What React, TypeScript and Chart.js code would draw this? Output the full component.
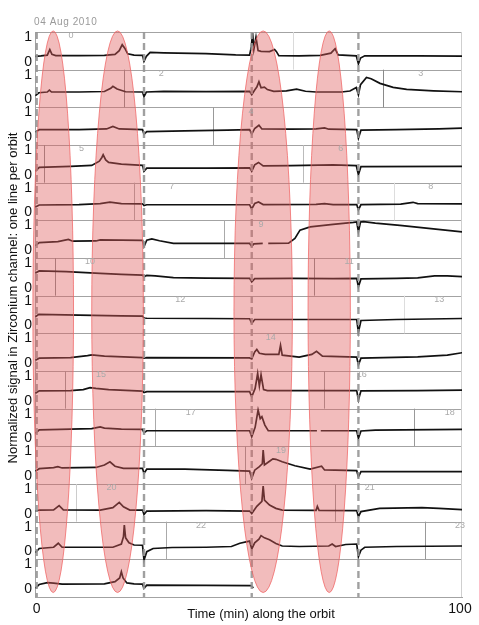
import React, { useEffect, useRef } from 'react';
import { Chart, registerables } from 'chart.js';

Chart.register(...registerables);

type Pt = [number, number | null];

// ---- layout of the stacked rows (value units) ----
const ROWS = 15;
const ROW_SPAN = 1.525;
const ZERO_OFFSET = 0.32;
const rowZero = (r: number) => (ROWS - 1 - r) * ROW_SPAN + ZERO_OFFSET;

// ---- x axis ----
const X_MIN = -0.4;
const X_MAX = 100.47;
const xTickValues = [0, 100];
const dateText = '04 Aug 2010';
const xTitle = 'Time (min) along the orbit';
const yTitle = 'Normalized signal in Zirconium channel: one line per orbit';

// ---- normalized traces, one per row: [minute, value] ----
const row00: Pt[] = [[-0.3,0.22],[1,0.24],[2.5,0.27],[3.1,0.49],[3.6,0.3],[4.5,0.25],[10,0.25],[16,0.26],[18.5,0.3],[19.5,0.45],[20.2,0.69],[20.8,0.55],[21.5,0.32],[23,0.27],[25,0.26],[25.35,0.02],[25.9,0.22],[26.8,0.38],[30,0.36],[40,0.33],[47,0.28],[50.3,0.27],[50.7,0.6],[51.0,1.16],[51.3,0.5],[51.8,1.0],[52.3,0.45],[53,0.42],[55,0.41],[56.2,0.5],[56.6,0.42],[57.2,0.25],[62,0.24],[67,0.26],[69.5,0.35],[70.5,0.53],[71.2,0.28],[75.5,0.24],[76,-0.09],[76.5,0.15],[77.5,0.24],[90,0.24],[100.5,0.23]];
const row01: Pt[] = [[-0.3,0.15],[0.5,0.27],[2.5,0.3],[3,0.38],[3.5,0.3],[10,0.3],[16,0.32],[17.5,0.45],[18,0.53],[19,0.42],[21,0.31],[25,0.3],[25.35,0.12],[25.9,0.3],[30,0.33],[40,0.32],[50.3,0.33],[50.8,0.19],[51.5,0.38],[52,0.5],[52.5,0.72],[53,0.47],[53.8,0.5],[54.5,0.4],[56,0.33],[59,0.35],[61.4,0.42],[63.5,0.33],[66,0.3],[72,0.3],[74,0.34],[75.5,0.48],[76,0.19],[76.5,0.6],[77.9,0.89],[79,0.84],[81.1,0.65],[84.2,0.49],[87.4,0.41],[93.7,0.35],[100.5,0.31]];
const row02: Pt[] = [[-0.3,0.2],[0.6,0.3],[10,0.3],[16.5,0.33],[18,0.43],[19.5,0.33],[25,0.3],[25.35,0.12],[26,0.22],[35,0.25],[45,0.28],[50.3,0.3],[50.8,0.12],[51.5,0.35],[52.5,0.48],[53.2,0.33],[60,0.32],[66,0.33],[68,0.37],[69,0.32],[75.6,0.3],[76,-0.04],[76.6,0.28],[85,0.3],[95,0.33],[100.5,0.36]];
const row03: Pt[] = [[-0.3,0.15],[0.6,0.3],[8,0.34],[13,0.38],[14.8,0.55],[15.4,0.7],[15.7,0.81],[16.3,0.6],[17,0.5],[20,0.43],[25,0.38],[25.35,0.14],[26,0.27],[40,0.27],[50.3,0.28],[50.8,0.14],[51.5,0.4],[52.4,0.5],[53.5,0.36],[60,0.37],[70,0.4],[75.5,0.37],[76,0],[76.6,0.33],[100.5,0.34]];
const row04: Pt[] = [[-0.3,0.22],[0.6,0.3],[10,0.32],[15,0.36],[17.3,0.42],[20,0.36],[25,0.35],[25.35,0.28],[26,0.31],[40,0.31],[50.3,0.31],[50.8,0.14],[51.5,0.36],[52.4,0.42],[53.5,0.32],[66,0.33],[68,0.36],[70,0.32],[75.6,0.32],[76,0.1],[76.6,0.32],[86,0.34],[88.9,0.41],[90,0.36],[100.5,0.35]];
const row05: Pt[] = [[-0.3,0.18],[0.6,0.3],[5,0.34],[7.5,0.43],[8.5,0.36],[14,0.37],[15,0.41],[20,0.4],[25,0.39],[25.35,0.14],[26,0.4],[27.2,0.45],[29,0.38],[32.3,0.27],[40,0.27],[50.3,0.27],[50.8,0.15],[51.3,0.25],[53.4,0.27],[53.5,null],[54.7,0.27],[59.5,0.28],[61,0.47],[62.2,0.81],[64.6,0.94],[70,1.04],[74.8,1.12],[75.6,1.14],[76,0.74],[76.5,1.14],[77.2,1.15],[80,1.09],[85.8,1.0],[93.7,0.86],[100.5,0.74]];
const row06: Pt[] = [[-0.3,0.6],[0.6,0.68],[7,0.65],[15,0.58],[20,0.54],[25,0.51],[25.35,0.45],[26,0.5],[28,0.48],[32.3,0.41],[40,0.39],[50.3,0.38],[50.8,0.24],[51.5,0.37],[60,0.38],[70,0.37],[75.6,0.38],[76,0.04],[76.6,0.36],[85,0.38],[90,0.4],[94,0.48],[97,0.48],[100.5,0.45]];
const row07: Pt[] = [[-0.3,0.35],[0.5,0.45],[10,0.42],[20,0.39],[25,0.38],[25.35,0.3],[26,0.29],[40,0.28],[50.3,0.27],[50.8,0.08],[51.5,0.24],[60,0.24],[75.6,0.24],[76,-0.28],[76.6,0.2],[85,0.24],[100.5,0.28]];
const row08: Pt[] = [[-0.3,0.12],[0.6,0.2],[8,0.22],[12,0.3],[13,0.33],[16,0.28],[25,0.22],[25.35,0.2],[26,0.22],[50.3,0.21],[50.8,0.17],[51.5,0.45],[52,0.55],[52.6,0.4],[54,0.35],[57.2,0.35],[57.6,0.72],[58,0.32],[62,0.24],[65,0.35],[66.1,0.48],[67.5,0.28],[75.6,0.24],[76,-0.08],[76.6,0.2],[90,0.25],[97,0.32],[100.5,0.42]];
const row09: Pt[] = [[-0.3,0.3],[0.6,0.4],[8,0.41],[11,0.45],[12.6,0.53],[14,0.5],[17,0.45],[25,0.39],[25.35,0.33],[26,0.37],[50.3,0.37],[50.8,0.16],[51.6,0.5],[52.2,1.11],[52.6,0.6],[53.0,1.05],[53.6,0.45],[54.5,0.41],[75.6,0.41],[76,0.03],[76.6,0.4],[90,0.41],[100.5,0.43]];
const row10: Pt[] = [[-0.3,0.2],[0.6,0.35],[8,0.38],[13,0.4],[15,0.47],[16,0.42],[20,0.38],[25,0.37],[25.35,0.23],[26,0.31],[50.3,0.31],[50.8,0.07],[51.6,0.45],[52.3,1.15],[52.8,0.8],[53.2,0.88],[53.9,0.54],[54.7,0.31],[66.2,0.31],[66.3,null],[67.1,0.31],[75.6,0.31],[76,0],[76.6,0.3],[80,0.34],[100.5,0.37]];
const row11: Pt[] = [[-0.3,0.2],[0.6,0.3],[4,0.34],[5,0.38],[6,0.33],[14,0.35],[16,0.45],[17.3,0.58],[18.5,0.4],[20.5,0.31],[25,0.31],[25.35,0.11],[26,0.28],[35,0.28],[45,0.23],[50.3,0.2],[50.8,-0.09],[51.5,0.24],[52.6,0.38],[53.3,0.5],[53.5,1.05],[53.8,0.45],[55,0.6],[55.8,0.7],[56.5,0.68],[58,0.58],[61,0.42],[64.6,0.28],[67.3,0.4],[68,0.25],[75.6,0.22],[76,-0.03],[76.6,0.18],[90,0.18],[100.5,0.18]];
const row12: Pt[] = [[-0.3,0.1],[0.6,0.15],[4,0.16],[5.3,0.33],[6.3,0.16],[15,0.15],[18,0.25],[19.5,0.46],[20.5,0.28],[22,0.15],[25,0.15],[25.35,-0.03],[26,0.11],[40,0.13],[50.3,0.11],[50.8,0.01],[52,0.3],[53.2,0.5],[53.5,1.12],[53.8,0.55],[55,0.35],[56.5,0.22],[58,0.15],[66,0.14],[66.3,0.3],[66.7,0.14],[75.6,0.13],[76,-0.12],[76.6,0.09],[81,0.22],[91,0.25],[95,0.22],[100.5,0.17]];
const row13: Pt[] = [[-0.3,-0.05],[0.6,0.12],[4,0.17],[5.1,0.33],[6,0.17],[18,0.17],[20,0.3],[20.5,0.6],[20.7,1.07],[21,0.55],[21.8,0.35],[23,0.26],[25,0.25],[25.35,-0.35],[26,-0.01],[27.5,0.12],[32,0.16],[40,0.17],[46,0.2],[48,0.33],[50.3,0.42],[50.8,0.1],[51.5,0.35],[52.5,0.5],[53,0.64],[53.8,0.55],[55,0.47],[56.5,0.32],[58,0.22],[62,0.2],[69,0.22],[69.8,0.3],[70.6,0.2],[73,0.28],[75.6,0.3],[76,-0.21],[76.6,0.05],[77.5,0.17],[85,0.2],[100.5,0.22]];
const row14: Pt[] = [[-0.3,0.03],[0.6,0.19],[2.5,0.26],[4,0.24],[6,0.2],[16,0.21],[18.5,0.3],[19.6,0.45],[20.0,0.7],[20.4,0.45],[21.3,0.25],[23,0.21],[25,0.2],[25.35,0.03],[26,0.16],[40,0.15],[50.6,0.14],[51.2,0.05]];
const rows: Pt[][] = [row00,row01,row02,row03,row04,row05,row06,row07,row08,row09,row10,row11,row12,row13,row14];

// ---- reference markers (minutes) ----
const orbitStartMin = [0, 25.35, 50.8, 76.0];
const ellipseCenterMin = [3.9, 19.1, 53.5, 69.1];
const ellipseHalfWidthMin = [4.8, 6.1, 6.9, 5.0];
const ellipseTopVal = 22.92;
const ellipseBottomVal = 0.18;

// orbit boundary ticks inside rows
const boundaryRow = [0, 1, 1, 2, 3, 3, 4, 4, 5, 6, 6, 7, 9, 9, 10, 10, 11, 12, 12, 13, 13];
const boundaryMin = [60.6, 20.7, 81.9, 41.7, 1.8, 63.0, 23.1, 84.5, 44.2, 4.3, 65.6, 86.8, 6.8, 67.9, 27.9, 89.2, 49.2, 9.3, 70.5, 30.5, 91.7];
const boundaryTone = ['#dadada','#8a8a8a','#8a8a8a','#999','#8a8a8a','#bbb','#aaa','#ddd','#aaa','#8a8a8a','#8a8a8a','#ddd','#999','#999','#aaa','#999','#999','#ccc','#999','#aaa','#999'];

// orbit numbers
const orbitLabelText = ['0','2','3','4','5','6','7','8','9','10','11','12','13','14','15','16','17','18','19','20','21','22','23'];
const orbitLabelRow = [0,1,1,2,3,3,4,4,5,6,6,7,7,8,9,9,10,10,11,12,12,13,13];
const orbitLabelMin = [8.1,29.4,90.7,50.6,10.6,71.8,31.9,93.1,53,12.6,73.8,33.9,95.1,55.3,15.2,76.8,36.4,97.6,57.7,17.7,78.7,38.8,100];
const orbitLabelVal = 1.05;

const FONT = '"Liberation Sans", Arial, sans-serif';

const overlay = {
  id: 'overlay',
  beforeDatasetsDraw(chart: any) {
    const { ctx, chartArea: a, scales } = chart;
    const x = scales.x, y = scales.y;
    ctx.save();
    ctx.lineWidth = 1;
    ctx.strokeStyle = '#a3a3a3';
    for (let r = 0; r <= ROWS; r++) {
      const py = Math.round(y.getPixelForValue(r * ROW_SPAN)) + 0.5;
      ctx.beginPath(); ctx.moveTo(a.left, py); ctx.lineTo(a.right, py); ctx.stroke();
    }
    ctx.beginPath();
    ctx.moveTo(Math.round(a.left) + 0.5, a.top); ctx.lineTo(Math.round(a.left) + 0.5, a.bottom);
    ctx.stroke();
    ctx.strokeStyle = '#cfcfcf';
    ctx.beginPath();
    ctx.moveTo(Math.round(a.right) - 0.5, a.top); ctx.lineTo(Math.round(a.right) - 0.5, a.bottom);
    ctx.stroke();
    boundaryRow.forEach((r, i) => {
      const px = Math.round(x.getPixelForValue(boundaryMin[i])) + 0.5;
      const base = rowZero(r) - ZERO_OFFSET;
      const t = y.getPixelForValue(base + ROW_SPAN);
      const b = y.getPixelForValue(base);
      ctx.strokeStyle = boundaryTone[i];
      ctx.beginPath(); ctx.moveTo(px, t); ctx.lineTo(px, b); ctx.stroke();
    });
    ctx.restore();
  },
  afterDatasetsDraw(chart: any) {
    const { ctx, chartArea: a, scales } = chart;
    const x = scales.x, y = scales.y;
    ctx.save();
    // dashed orbit-phase lines
    ctx.strokeStyle = 'rgba(150,150,150,0.9)';
    ctx.lineWidth = 2.4;
    ctx.setLineDash([7, 4]);
    orbitStartMin.forEach((m) => {
      const px = x.getPixelForValue(m);
      ctx.beginPath(); ctx.moveTo(px, a.top); ctx.lineTo(px, a.bottom); ctx.stroke();
    });
    ctx.setLineDash([]);
    // ellipses
    ellipseCenterMin.forEach((m, i) => {
      const cx = x.getPixelForValue(m);
      const rx = x.getPixelForValue(m + ellipseHalfWidthMin[i]) - cx;
      const top = y.getPixelForValue(ellipseTopVal);
      const bot = y.getPixelForValue(ellipseBottomVal);
      ctx.beginPath();
      ctx.ellipse(cx, (top + bot) / 2, rx, (bot - top) / 2, 0, 0, Math.PI * 2);
      ctx.fillStyle = 'rgba(225,95,95,0.42)';
      ctx.fill();
      ctx.strokeStyle = 'rgba(240,100,100,0.75)';
      ctx.lineWidth = 1;
      ctx.stroke();
    });
    // orbit numbers
    ctx.fillStyle = '#aaaaaa';
    ctx.font = `9px ${FONT}`;
    ctx.textAlign = 'center';
    ctx.textBaseline = 'middle';
    orbitLabelText.forEach((t, i) => {
      ctx.fillText(t, x.getPixelForValue(orbitLabelMin[i]), y.getPixelForValue(rowZero(orbitLabelRow[i]) + orbitLabelVal));
    });
    // date
    ctx.fillStyle = '#9a9a9a';
    ctx.font = `10px ${FONT}`;
    ctx.textAlign = 'left';
    (ctx as any).letterSpacing = '0.6px';
    ctx.fillText(dateText, a.left - 1, a.top - 10);
    (ctx as any).letterSpacing = '0px';
    // axis titles
    ctx.fillStyle = '#111';
    ctx.font = `13px ${FONT}`;
    ctx.textAlign = 'center';
    ctx.fillText(xTitle, a.left + 226, a.bottom + 17);
    ctx.translate(13, a.top + 266);
    ctx.rotate(-Math.PI / 2);
    ctx.fillText(yTitle, 0, 0);
    ctx.restore();
  },
};

export default function App() {
  const ref = useRef<HTMLCanvasElement | null>(null);
  useEffect(() => {
    if (!ref.current) return;
    const datasets = rows.map((row, r) => ({
      data: row.map(([m, v]) => ({ x: m, y: v === null ? null : v + rowZero(r) })),
      borderColor: '#111',
      borderWidth: 1.7,
      pointRadius: 0,
      tension: 0,
      spanGaps: false,
      fill: false,
    }));
    const chart = new Chart(ref.current, {
      type: 'line',
      data: { datasets: datasets as any },
      plugins: [overlay],
      options: {
        animation: false,
        responsive: false,
        layout: { padding: { top: 32, right: 17, left: 0, bottom: 0 } },
        plugins: { legend: { display: false }, tooltip: { enabled: false } },
        scales: {
          x: {
            type: 'linear',
            min: X_MIN,
            max: X_MAX,
            grid: { display: false, drawTicks: false },
            border: { display: true, color: '#a3a3a3' },
            afterBuildTicks: (s: any) => { s.ticks = xTickValues.map((v) => ({ value: v })); },
            afterFit: (s: any) => { s.height = 28; },
            ticks: {
              autoSkip: false,
              maxRotation: 0,
              padding: 4,
              color: '#111',
              font: { family: FONT, size: 14 },
              callback: (v: any) => String(v),
            },
          },
          y: {
            type: 'linear',
            min: 0,
            max: ROWS * ROW_SPAN,
            grid: { display: false, drawTicks: false },
            border: { display: false },
            afterBuildTicks: (s: any) => {
              const t: any[] = [];
              for (let r = ROWS - 1; r >= 0; r--) { t.push({ value: rowZero(r) }); t.push({ value: rowZero(r) + 1 }); }
              s.ticks = t;
            },
            afterFit: (s: any) => { s.width = 35; },
            ticks: {
              autoSkip: false,
              padding: 3,
              color: '#111',
              font: { family: FONT, size: 14 },
              callback: (_v: any, i: number) => (i % 2 === 0 ? '0' : '1'),
            },
          },
        },
      },
    });
    return () => chart.destroy();
  }, []);
  return (
    <div style={{ position: 'absolute', left: 0, top: 0, width: 479, height: 625, background: '#fff' }}>
      <canvas ref={ref} width={479} height={625} style={{ display: 'block' }} />
    </div>
  );
}
